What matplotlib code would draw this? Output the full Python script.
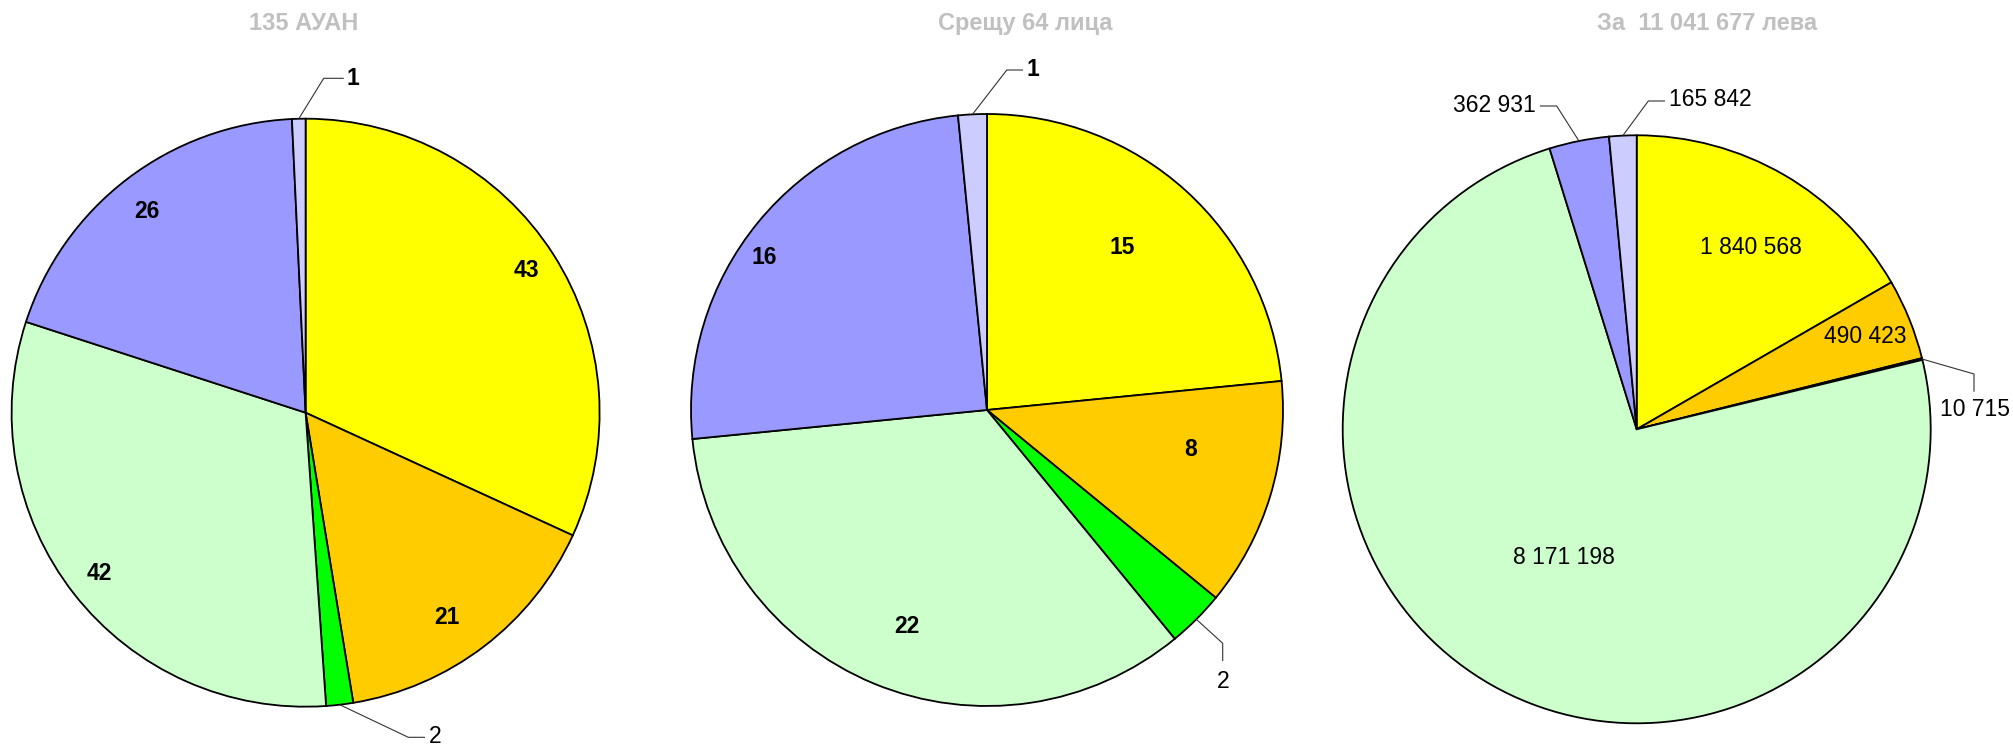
import numpy as np
import matplotlib
matplotlib.use("Agg")
import matplotlib.pyplot as plt

W, H = 2013, 750

# ── data ──────────────────────────────────────────────────────────────────────
titles = ["135 АУАН", "Срещу 64 лица", "За  11 041 677 лева"]
ayan = [43, 21, 2, 42, 26, 1]
lica = [15, 8, 2, 22, 16, 1]
leva = [1840568, 490423, 10715, 8171198, 362931, 165842]

COLORS = ["#FFFF00", "#FFCC00", "#00FF00", "#CCFFCC", "#9999FF", "#CCCCFF"]
TITLE_C = "#C0C0C0"
LEAD_C = "#333333"
FONT = "Liberation Sans"

# ── layout (pixel coords, y up) ───────────────────────────────────────────────
# label: ("in", radius fraction, angle offset, weight)
#        ("out", [elbow, end], text xy, ha, va, weight)
pies = [
    dict(values=ayan, center=(305.6, 337.3), r=294, title_x=304,
         labels=[("in", 0.893, 0.0, "bold"),
                 ("in", 0.846, -2.7, "bold"),
                 ("out", [(408.3, 12.7), (425, 12.7)], (429, 13.5), "left", "center", "normal"),
                 ("in", 0.89, 0.0, "bold"),
                 ("in", 0.87, 0.9, "bold"),
                 ("out", [(323.7, 671.7), (343.8, 671.7)], (347, 671.7), "left", "center", "bold")]),
    dict(values=lica, center=(987, 340), r=296, title_x=1025,
         labels=[("in", 0.713, 2.4, "bold"),
                 ("in", 0.70, 6.0, "bold"),
                 ("out", [(1222.7, 106.7), (1222.7, 89)], (1222.7, 68.3), "center", "center", "normal"),
                 ("in", 0.78, 2.1, "bold"),
                 ("in", 0.91, 5.0, "bold"),
                 ("out", [(1006.8, 680), (1023, 680)], (1027, 680), "left", "center", "bold")]),
    dict(values=leva, center=(1636.7, 320.7), r=294, title_x=1707,
         labels=[("in", 0.73, -2.0, "normal"),
                 ("in", 0.84, 0.0, "normal"),
                 ("out", [(1974, 376), (1974, 358.3)], (1975, 340), "center", "center", "normal"),
                 ("in", 0.50, 0.0, "normal"),
                 ("out", [(1556.7, 644), (1540, 644)], (1536, 644), "right", "center", "normal"),
                 ("out", [(1648.3, 649), (1665, 649)], (1669, 650), "left", "center", "normal")]),
]


def fmt(v):
    return f"{v:,}".replace(",", " ")


fig = plt.figure(figsize=(W / 100, H / 100), dpi=100, facecolor="white")
ax = fig.add_axes([0, 0, 1, 1])

for spec, title in zip(pies, titles):
    cx, cy = spec["center"]
    r = spec["r"]
    wedges, _ = ax.pie(spec["values"], colors=COLORS, startangle=90,
                       counterclock=False, center=(cx, cy), radius=r, frame=True,
                       wedgeprops=dict(edgecolor="black", linewidth=1.3))
    ax.text(spec["title_x"], H - 23.5, title, ha="center", va="center",
            fontsize=17, fontweight="bold", color=TITLE_C, family=FONT)

    for w, v, lab in zip(wedges, spec["values"], spec["labels"]):
        mid = np.deg2rad((w.theta1 + w.theta2) / 2)
        if lab[0] == "in":
            _, f, da, wt = lab
            a = mid + np.deg2rad(da)
            ax.text(cx + f * r * np.cos(a), cy + f * r * np.sin(a), fmt(v),
                    ha="center", va="center", fontsize=16.5, fontweight=wt,
                    family=FONT, color="black")
        else:
            _, pts, txy, ha, va, wt = lab
            ex, ey = cx + r * np.cos(mid), cy + r * np.sin(mid)
            xs = [ex] + [p[0] for p in pts]
            ys = [ey] + [p[1] for p in pts]
            ax.plot(xs, ys, color=LEAD_C, lw=0.8, solid_capstyle="butt")
            ax.text(txy[0], txy[1], fmt(v), ha=ha, va=va, fontsize=16.5,
                    fontweight=wt, family=FONT, color="black")

ax.set_xlim(0, W)
ax.set_ylim(0, H)
ax.set_aspect("equal")
ax.axis("off")

fig.savefig("out.png", dpi=100, facecolor="white")
